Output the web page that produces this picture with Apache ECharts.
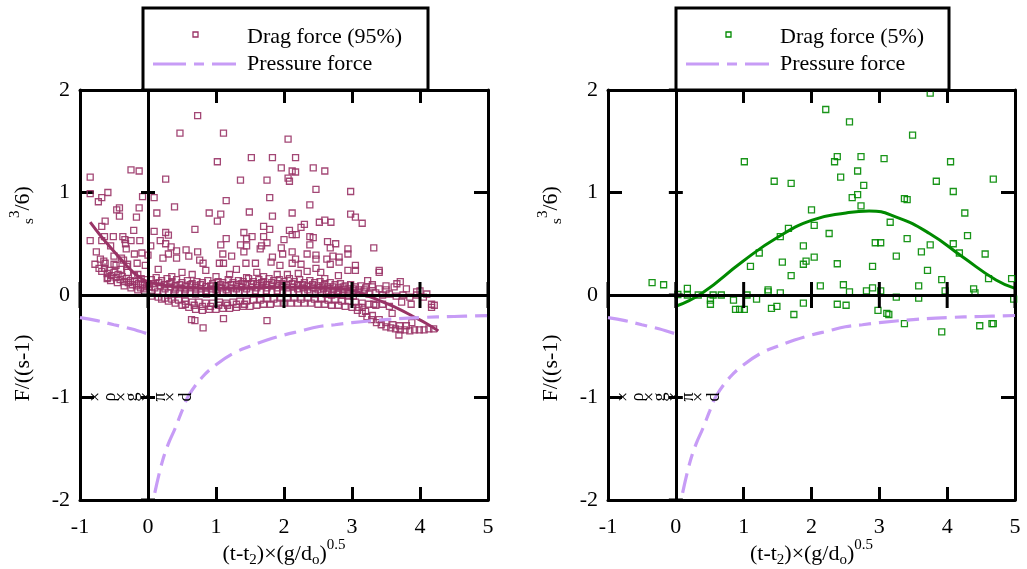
<!DOCTYPE html>
<html><head><meta charset="utf-8">
<script src="https://cdn.jsdelivr.net/npm/echarts@6/dist/echarts.min.js"></script>
<style>html,body{margin:0;padding:0;background:#fff}#c{width:1027px;height:569px}</style>
</head><body><div id="c"></div>
<script>
const xTicks = [-1, 0, 1, 2, 3, 4, 5];
const yTicks = [-2, -1, 0, 1, 2];

const dragLeftScattered = [
[0.73,1.75],[0.47,1.58],[1.11,1.58],[1.02,1.30],[1.52,1.34],[1.83,1.34],[1.96,1.24],[2.06,1.52],[2.06,1.14],[-0.85,1.15],[-0.25,1.22],[-0.13,1.21],[0.26,1.13],[1.36,1.12],[1.75,1.12],[-0.85,0.99],[-0.59,1.00],[-0.68,0.95],[-0.73,0.91],[-0.08,0.96],[0.09,0.95],[1.79,0.95],[1.15,0.92],[0.39,0.86],[-0.46,0.83],[-0.42,0.85],[-0.13,0.85],[-0.42,0.77],[-0.17,0.76],[0.13,0.80],[0.90,0.80],[1.07,0.79],[1.49,0.81],[1.83,0.77],[1.02,0.72],[-0.63,0.72],[-0.68,0.67],[0.69,0.64],[1.70,0.67],[1.79,0.64],[-0.21,0.63],[0.26,0.61],[0.30,0.585],[0.09,0.62],[-0.85,0.53],[-0.64,0.57],[-0.51,0.57],[-0.37,0.57],[-0.34,0.54],[-0.25,0.53],[-0.12,0.53],[-0.68,0.53],[0.18,0.53],[1.15,0.55],[1.41,0.61],[1.53,0.57],[1.45,0.55],[1.70,0.57],[2.0,0.54],[-0.55,0.48],[-0.33,0.50],[0.04,0.48],[0.26,0.50],[0.34,0.47],[1.07,0.49],[1.36,0.49],[1.45,0.48],[1.67,0.48],[1.75,0.51],[1.96,0.46],[-0.76,0.42],[-0.32,0.45],[-0.09,0.41],[0.0,0.39],[0.42,0.43],[0.56,0.44],[0.73,0.42],[0.30,0.40],[1.10,0.40],[1.23,0.38],[1.41,0.42],[1.65,0.45],[1.83,0.37],[1.98,0.40],[0.22,0.36],[0.42,0.36],[0.60,0.38],[1.05,0.31],[1.11,0.31],[1.44,0.31],[1.58,0.31],[1.81,0.32],[1.94,0.29],[0.76,0.34],[0.81,0.31],[-0.63,0.31],[-0.47,0.29],[-0.36,0.34],[-0.16,0.31],[-0.04,0.29],[-0.59,0.17],[-0.39,0.36],[-0.31,0.28],
[2.17,1.34],[2.12,1.21],[2.17,1.20],[2.43,1.24],[2.60,1.21],[2.08,1.11],[2.47,1.03],[2.98,1.01],[2.38,0.88],[2.12,0.80],[2.98,0.79],[3.05,0.76],[3.15,0.70],[2.52,0.71],[2.60,0.73],[2.69,0.71],[2.30,0.69],[2.25,0.66],[2.08,0.63],[2.12,0.59],[2.18,0.59],[2.38,0.57],[2.43,0.56],[2.38,0.49],[2.64,0.52],[2.76,0.50],[2.68,0.46],[2.94,0.45],[2.94,0.40],[3.32,0.46],[2.12,0.42],[2.34,0.40],[2.47,0.39],[2.72,0.38],[2.81,0.37],[2.17,0.35],[2.47,0.35],[2.63,0.35],[2.81,0.32],[2.12,0.31],[2.25,0.30],[2.68,0.30],[3.05,0.29],[2.21,0.21],[2.34,0.23],[2.47,0.26],[2.54,0.22],[2.94,0.24],[3.05,0.24],[3.40,0.24],[3.40,0.22],[2.80,0.19],[3.71,0.13],[3.66,0.11],[2.60,0.16],[3.23,0.14],[4.00,0.04],
[0.5,0.22],[0.65,0.2],[0.85,0.24],[1.2,0.2],[1.3,0.25],[1.6,0.22],[1.9,0.2],[0.15,0.25],[0.35,0.18],[1.0,0.18],[1.45,0.17],[1.7,0.18],[2.05,0.2],[-0.2,0.4],[-0.5,0.38],[-0.7,0.35],
[0.64,-0.24],[0.69,-0.25],[0.81,-0.32],[1.11,-0.23],[1.75,-0.25],[4.17,-0.09],[4.21,-0.10],[3.87,-0.09],[3.73,-0.07],[4.17,-0.12],[3.59,-0.18],[3.88,-0.27],[3.69,-0.39],[3.32,-0.09],[3.15,-0.12]
];

const dragLeftBand = [
[-0.78,0.3],[-0.72,0.26],[-0.68,0.23],[-0.64,0.26],[-0.6,0.21],[-0.57,0.24],[-0.54,0.19],[-0.5,0.22],[-0.47,0.17],[-0.44,0.2],[-0.41,0.15],[-0.38,0.18],[-0.35,0.13],[-0.32,0.16],[-0.29,0.12],[-0.26,0.14],[-0.23,0.1],[-0.2,0.13],[-0.17,0.09],[-0.14,0.11],[-0.11,0.07],[-0.08,0.1],[-0.05,0.06],[-0.02,0.08],[-0.6,0.16],[-0.5,0.3],[-0.4,0.25],[-0.3,0.22],[-0.2,0.19],[-0.1,0.16],[-0.55,0.14],[-0.45,0.12],[-0.35,0.09],[-0.25,0.07],[-0.15,0.05],[-0.05,0.03],[-0.65,0.33],[-0.3,0.3],[-0.15,0.2],[-0.05,0.15],[0.0,0.11],
[0.05,0.15],[0.12,0.17],[0.2,0.14],[0.28,0.16],[0.35,0.13],[0.42,0.15],[0.5,0.12],[0.58,0.14],[0.65,0.11],[0.72,0.13],[0.8,0.12],[0.88,0.14],[0.95,0.11],[1.03,0.13],[1.1,0.12],[1.18,0.15],[1.25,0.12],[1.33,0.14],[1.4,0.13],[1.48,0.16],[1.55,0.13],[1.63,0.15],[1.7,0.13],[1.78,0.16],[1.85,0.14],[1.93,0.15],[2.0,0.13],[2.08,0.16],[2.15,0.13],[2.23,0.15],[2.3,0.12],[2.38,0.14],[2.45,0.12],[2.53,0.13],[2.6,0.11],[2.68,0.12],[2.75,0.10],[2.83,0.11],[2.9,0.09],[2.98,0.10],[3.05,0.08],[3.13,0.09],[3.2,0.07],[3.3,0.08],[3.4,0.06],[3.5,0.05],
[0.08,0.11],[0.16,0.12],[0.24,0.1],[0.32,0.11],[0.4,0.09],[0.47,0.1],[0.55,0.09],[0.62,0.1],[0.7,0.09],[0.77,0.1],[0.85,0.08],[0.92,0.09],[1.0,0.09],[1.07,0.1],[1.14,0.09],[1.22,0.1],[1.3,0.1],[1.37,0.11],[1.44,0.1],[1.52,0.11],[1.6,0.11],[1.67,0.12],[1.74,0.1],[1.82,0.12],[1.9,0.11],[1.97,0.11],[2.04,0.1],[2.12,0.11],[2.2,0.1],[2.27,0.1],[2.34,0.09],[2.42,0.1],[2.5,0.09],[2.57,0.09],[2.64,0.08],[2.72,0.08],[2.8,0.07],[2.87,0.08],[2.94,0.06],[3.02,0.06],[3.1,0.05],[3.18,0.05],
[0.02,0.08],[0.1,0.07],[0.18,0.09],[0.25,0.06],[0.33,0.08],[0.4,0.05],[0.48,0.07],[0.55,0.05],[0.63,0.07],[0.7,0.05],[0.78,0.06],[0.85,0.04],[0.93,0.06],[1.0,0.05],[1.08,0.07],[1.15,0.05],[1.23,0.07],[1.3,0.06],[1.38,0.08],[1.45,0.06],[1.53,0.08],[1.6,0.07],[1.68,0.09],[1.75,0.07],[1.83,0.09],[1.9,0.07],[1.98,0.08],[2.05,0.07],[2.13,0.08],[2.2,0.06],[2.28,0.07],[2.35,0.05],[2.43,0.07],[2.5,0.05],[2.58,0.06],[2.65,0.04],[2.73,0.05],[2.8,0.04],[2.88,0.05],[2.95,0.03],[3.03,0.04],[3.1,0.02],[3.18,0.03],[3.25,0.01],[3.35,0.02],[3.45,0.0],[3.55,0.01],[3.65,-0.01],[3.75,0.0],[3.85,-0.02],[3.95,0.0],[4.05,-0.02],[3.3,0.1],[3.5,0.09],[3.62,0.08],[3.8,0.06],[3.95,0.03],[4.1,0.01],
[0.06,0.02],[0.14,0.03],[0.22,0.02],[0.3,0.02],[0.38,0.01],[0.46,0.02],[0.54,0.01],[0.62,0.02],[0.7,0.01],[0.78,0.02],[0.86,0.01],[0.94,0.02],[1.02,0.02],[1.1,0.03],[1.18,0.02],[1.26,0.03],[1.34,0.02],[1.42,0.03],[1.5,0.03],[1.58,0.04],[1.66,0.03],[1.74,0.04],[1.82,0.03],[1.9,0.04],[1.98,0.03],[2.06,0.03],[2.14,0.02],[2.22,0.03],[2.3,0.02],[2.38,0.02],[2.46,0.01],[2.54,0.02],[2.62,0.01],[2.7,0.0],[2.78,0.01],[2.86,0.0],[2.94,-0.01],[3.02,-0.01],
[0.05,-0.01],[0.15,-0.02],[0.25,-0.03],[0.35,-0.04],[0.45,-0.05],[0.55,-0.06],[0.65,-0.07],[0.75,-0.07],[0.85,-0.08],[0.95,-0.08],[1.05,-0.07],[1.15,-0.08],[1.25,-0.07],[1.35,-0.06],[1.45,-0.06],[1.55,-0.05],[1.65,-0.05],[1.75,-0.04],[1.85,-0.04],[1.95,-0.03],[2.05,-0.03],[2.15,-0.03],[2.25,-0.04],[2.35,-0.03],[2.45,-0.04],[2.55,-0.04],[2.65,-0.05],[2.75,-0.05],[2.85,-0.06],[2.95,-0.06],[3.05,-0.07],[3.15,-0.08],[3.25,-0.09],[3.35,-0.1],[3.45,-0.09],[3.55,-0.11],
[0.2,-0.04],[0.3,-0.06],[0.4,-0.08],[0.5,-0.1],[0.6,-0.12],[0.7,-0.14],[0.8,-0.15],[0.9,-0.14],[1.0,-0.14],[1.1,-0.13],[1.2,-0.13],[1.3,-0.12],[1.4,-0.11],[1.5,-0.11],[1.6,-0.1],[1.7,-0.09],[1.8,-0.09],[1.9,-0.08],[2.0,-0.08],[2.1,-0.08],[2.2,-0.08],[2.3,-0.08],[2.4,-0.08],[2.5,-0.09],[2.6,-0.09],[2.7,-0.1],[2.8,-0.1],[2.9,-0.11],[3.0,-0.12],[3.08,-0.15],[3.15,-0.18],[3.22,-0.21],[3.29,-0.24],[3.36,-0.27],[3.43,-0.29],[3.5,-0.31],[3.57,-0.32],[3.64,-0.33],[3.71,-0.34],[3.78,-0.34],[3.85,-0.35],[3.92,-0.34],[3.99,-0.34],[4.06,-0.34],[4.13,-0.33],[4.2,-0.33],
[0.55,-0.09],[0.68,-0.1],[0.8,-0.11],[0.92,-0.11],[1.04,-0.1],[1.17,-0.1],[1.3,-0.09],[1.42,-0.09],[3.1,-0.12],[3.2,-0.16],[3.3,-0.2],[3.4,-0.24],[3.5,-0.27],[3.6,-0.29],[3.7,-0.3],[3.8,-0.3]
];

const fitLeft = [[-0.85,0.71],[-0.7,0.58],[-0.56,0.47],[-0.4,0.35],[-0.26,0.25],[-0.12,0.17],[0,0.13],[0.27,0.09],[0.6,0.07],[1.0,0.065],[1.5,0.07],[2.0,0.075],[2.5,0.07],[2.97,0.05],[3.2,0.0],[3.46,-0.07],[3.7,-0.14],[3.9,-0.21],[4.1,-0.28],[4.27,-0.35]];

const dragRight = [
[-0.35,0.12],[-0.18,0.10],[0.03,0.005],[0.17,0.065],[0.17,0.0],[0.33,0.0],[0.51,-0.05],[0.51,-0.09],[0.55,0.0],[0.67,0.0],[0.85,-0.05],[0.88,-0.14],[0.94,-0.14],[1.01,-0.14],[1.01,1.30],[1.05,0.0],[1.10,0.28],[1.19,-0.04],[1.23,0.41],[1.36,0.05],[1.36,0.03],[1.41,-0.13],[1.45,1.11],[1.49,-0.11],[1.54,0.02],[1.57,0.32],[1.54,0.57],[1.66,0.65],[1.70,1.09],[1.70,0.19],[1.74,-0.19],[1.88,0.48],[1.88,0.30],[1.88,-0.08],[1.92,0.33],[2.0,0.83],[2.04,0.68],[2.04,0.37],[2.13,0.09],[2.21,1.81],[2.26,0.60],[2.34,1.30],[2.38,1.35],[2.38,0.305],[2.38,-0.09],[2.43,1.15],[2.47,0.10],[2.51,-0.10],[2.56,1.69],[2.56,0.03],[2.60,0.95],[2.68,1.21],[2.68,0.98],[2.73,1.35],[2.73,0.87],[2.77,1.07],[2.81,0.04],[2.90,0.28],[2.90,0.07],[2.94,0.51],[3.02,0.51],[3.02,0.04],[2.98,-0.15],[3.07,1.33],[3.11,-0.18],[3.14,-0.19],[3.16,0.71],[3.25,0.38],[3.25,-0.02],[3.37,0.94],[3.41,0.93],[3.37,-0.28],[3.41,0.55],[3.49,1.56],[3.58,0.09],[3.58,-0.03],[3.62,0.42],[3.71,0.24],[3.75,1.97],[3.75,0.49],[3.84,1.11],[3.92,0.15],[3.92,-0.36],[3.97,0.04],[4.05,1.30],[4.09,1.01],[4.09,0.50],[4.18,0.41],[4.26,0.80],[4.30,0.58],[4.39,0.06],[4.41,0.02],[4.48,-0.30],[4.56,0.40],[4.61,0.16],[4.66,-0.28],[4.68,-0.28],[4.68,1.13],[4.95,0.16],[4.98,-0.04]
];

const fitRight = [[0.0,-0.11],[0.39,0.02],[0.98,0.325],[1.52,0.57],[2.01,0.73],[2.51,0.80],[2.85,0.82],[3.25,0.76],[3.74,0.60],[4.23,0.37],[4.72,0.146],[5.0,0.065]];

const pressureBefore = [[-1,-0.22],[-0.75,-0.25],[-0.5,-0.29],[-0.25,-0.33],[0,-0.38]];
const pressureAfter = [[0.1,-1.93],[0.2,-1.65],[0.3,-1.45],[0.4,-1.3],[0.5,-1.13],[0.6,-0.98],[0.8,-0.8],[1.0,-0.68],[1.25,-0.57],[1.5,-0.5],[1.75,-0.44],[2.0,-0.39],[2.25,-0.35],[2.5,-0.31],[2.75,-0.29],[3.0,-0.27],[3.5,-0.24],[4.0,-0.22],[4.5,-0.21],[5.0,-0.2]];

const legendLabels = [['Drag force (95%)','Pressure force'],['Drag force (5%)','Pressure force']];
const xTitlePieces = [['(t-t',22,0],['2',15,6],[')×(g/d',22,0],['o',15,6],[')',22,0],['0.5',15,-9]];
const yTitleLow = [['F/((s-1)',22,0]];
const yTitleHigh = [['s',15,6],['3',15,-8],['/6)',22,0]];
const yTitleMid = ['×','ρ','×','g','×','π','×','d'];

const FONT = '"Liberation Serif", "Times New Roman", serif';
const MAG = '#993366', GREEN = '#008a00', LAV = '#c79cf6';
const DASH = [20, 8, 12, 8];

const mctx = document.createElement('canvas').getContext('2d');
function tw(t, s){ mctx.font = s + 'px ' + FONT; return mctx.measureText(t).width; }
function txt(t, x, y, s, align, extra){
  return Object.assign({type:'text', x:x, y:y, z:100, style:{text:t, font:s+'px '+FONT, fill:'#000',
    textAlign:align||'left', align:align||'left', textVerticalAlign:'middle', verticalAlign:'middle'}}, extra||{});
}
function pieces(list, cx, cy, rot){
  const total = list.reduce((a,p)=>a+tw(p[0],p[1]),0);
  let x = -total/2; const ch = [];
  list.forEach(p=>{ ch.push(txt(p[0], x, p[2], p[1], 'left')); x += tw(p[0],p[1]); });
  return {type:'group', x:cx, y:cy, rotation:rot||0, z:100, children:ch};
}

const grids = [{left:80, top:90, width:408, height:410},{left:608, top:90, width:407, height:410}];

const axLine = {color:'#000', width:3};
const xAxis = [], yAxis = [];
grids.forEach((g,i)=>{
  const base = {gridIndex:i, type:'value', min:-1, max:5, interval:1, splitLine:{show:false}};
  xAxis.push(Object.assign({}, base, {position:'bottom', axisLine:{onZero:false, lineStyle:axLine},
    axisTick:{inside:true, length:13, lineStyle:axLine},
    axisLabel:{fontFamily:FONT, fontSize:22, color:'#000', margin:16}}));
  xAxis.push(Object.assign({}, base, {position:'top', axisLine:{onZero:false, lineStyle:axLine},
    axisTick:{inside:true, length:13, lineStyle:axLine}, axisLabel:{show:false}}));
  const ybase = {gridIndex:i, type:'value', min:-2, max:2, interval:1, splitLine:{show:false}};
  yAxis.push(Object.assign({}, ybase, {position:'left', axisLine:{onZero:false, lineStyle:axLine},
    axisTick:{inside:true, length:14, lineStyle:axLine},
    axisLabel:{fontFamily:FONT, fontSize:22, color:'#000', margin:10}}));
  yAxis.push(Object.assign({}, ybase, {position:'right', axisLine:{onZero:false, lineStyle:axLine},
    axisTick:{inside:true, length:14, lineStyle:axLine}, axisLabel:{show:false}}));
});

function seriesFor(i, drag, fit, color){
  const xi = i*2, yi = i*2;
  const s = [];
  drag.forEach(d=>s.push({type:'scatter', xAxisIndex:xi, yAxisIndex:yi, data:d, symbol:'rect', symbolSize:6,
    itemStyle:{color:'rgba(255,255,255,0)', borderColor:color, borderWidth:1.3, opacity:0.9}, z:2, silent:true}));
  s.push({type:'line', xAxisIndex:xi, yAxisIndex:yi, data:fit, smooth:0.5, showSymbol:false,
    lineStyle:{color:color, width:3}, z:3, silent:true});
  [pressureBefore, pressureAfter].forEach(p=>s.push({type:'line', xAxisIndex:xi, yAxisIndex:yi, data:p, smooth:0.4,
    showSymbol:false, lineStyle:{color:LAV, width:3.2, type:DASH}, z:3, silent:true}));
  s.push({type:'custom', xAxisIndex:xi, yAxisIndex:yi, data:xTicks.map(v=>[v,0]), encode:{x:0,y:1}, z:5, silent:true,
    renderItem:(p,api)=>{ const c = api.coord([api.value(0), api.value(1)]);
      return {type:'line', shape:{x1:c[0], y1:c[1]-13, x2:c[0], y2:c[1]+13}, style:{stroke:'#000', lineWidth:3}}; },
    markLine:{silent:true, symbol:['none','none'], label:{show:false}, animation:false,
      lineStyle:{color:'#000', width:3, type:'solid'}, data:[{yAxis:0},{xAxis:0}]}});
  s.push({type:'custom', xAxisIndex:xi, yAxisIndex:yi, data:yTicks.map(v=>[0,v]), encode:{x:0,y:1}, z:5, silent:true,
    renderItem:(p,api)=>{ const c = api.coord([api.value(0), api.value(1)]);
      return {type:'line', shape:{x1:c[0]-7, y1:c[1], x2:c[0]+7, y2:c[1]}, style:{stroke:'#000', lineWidth:3}}; }});
  return s;
}

const series = [].concat(seriesFor(0, [dragLeftBand, dragLeftScattered], fitLeft, MAG), seriesFor(1, [dragRight], fitRight, GREEN));

const graphic = [];
const legendBoxes = [{x:143, w:285, color:MAG}, {x:676, w:273, color:GREEN}];
legendBoxes.forEach((b,i)=>{
  graphic.push({type:'rect', shape:{x:b.x, y:8, width:b.w, height:82}, style:{fill:'#fff', stroke:'#000', lineWidth:3}, z:50});
  graphic.push({type:'rect', shape:{x:b.x+50, y:32, width:5, height:5}, style:{fill:'none', stroke:b.color, lineWidth:1.3}, z:60});
  graphic.push({type:'line', shape:{x1:b.x+10, y1:64, x2:b.x+93, y2:64}, style:{stroke:LAV, lineWidth:3.2, lineDash:[33,8,10,8]}, z:60});
  graphic.push(txt(legendLabels[i][0], b.x+104, 37, 22, 'left', {z:60}));
  graphic.push(txt(legendLabels[i][1], b.x+104, 64, 22, 'left', {z:60}));
});
const gLeft = [80, 608], gCenter = [284, 811.5];
const midOffsets = [16, 30, 42, 52, 67, 80, 91, 106];
[0,1].forEach(i=>{
  graphic.push(pieces(xTitlePieces, gCenter[i], 554, 0));
  graphic.push(pieces(yTitleLow, gLeft[i]-57, 368, Math.PI/2));
  graphic.push(pieces(yTitleHigh, gLeft[i]-57, 205, Math.PI/2));
  yTitleMid.forEach((c,k)=>graphic.push({type:'group', x:gLeft[i]+midOffsets[k], y:397, rotation:Math.PI/2, z:100,
    children:[txt(c, 0, 0, 18, 'center')]}));
});

const chart = echarts.init(document.getElementById('c'), null, {renderer:'canvas'});
chart.setOption({animation:false, backgroundColor:'#fff', grid:grids, xAxis:xAxis, yAxis:yAxis, series:series, graphic:graphic});
</script>
</body></html>
